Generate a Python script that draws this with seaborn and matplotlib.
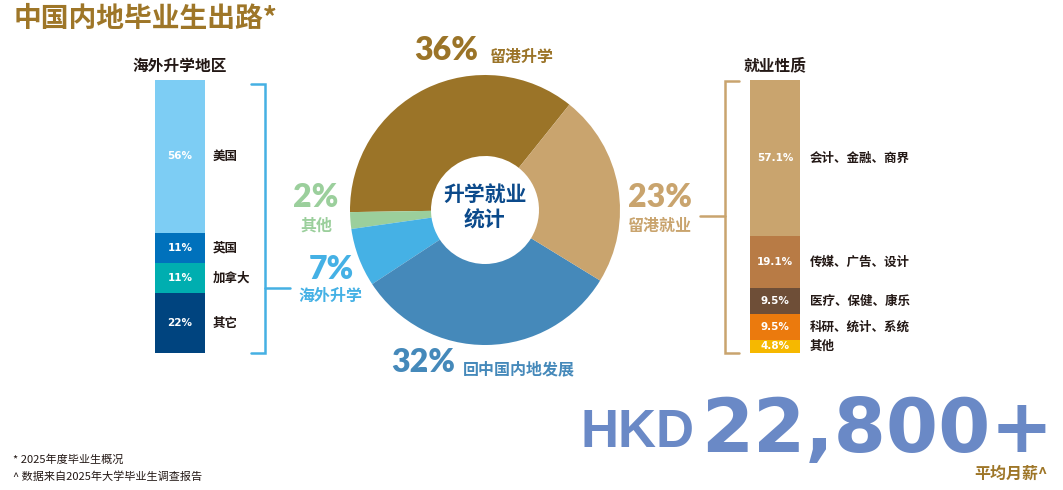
"""
Mainland graduates destinations chart: overseas study regions, pathway donut,
employment sectors and average monthly salary.
"""
import numpy as np
import matplotlib
matplotlib.use("Agg")
import matplotlib.pyplot as plt
import seaborn as sns

# ====================== DATA ======================
overseas_regions = ["美国", "英国", "加拿大", "其它"]
overseas_share = [56, 11, 11, 22]
overseas_colors = ["#7DCDF4", "#0071BC", "#00AEB0", "#00447F"]

job_types = ["会计、金融、商界", "传媒、广告、设计", "医疗、保健、康乐", "科研、统计、系统", "其他"]
job_share = [57.1, 19.1, 9.5, 9.5, 4.8]
job_colors = ["#C9A46E", "#B87B45", "#6E4E37", "#EB7A0D", "#F6B800"]

pathways = ["留港升学", "其他", "海外升学", "回中国内地发展", "留港就业"]
pathway_share = [36, 2, 7, 32, 23]
pathway_colors = ["#9B7428", "#9BCF9C", "#45B1E5", "#4589BA", "#C9A46E"]

salary_text = "22,800+"

GOLD = "#9E7628"
INK = "#231815"
NAVY = "#0B4A8B"
HKD_BLUE = "#6A89C6"

sns.set_theme(style="white")
plt.rcParams["font.family"] = ["Noto Sans CJK SC", "DejaVu Sans"]
NUM_FONT = ["Lato", "Noto Sans CJK SC", "DejaVu Sans"]

W, H = 1063, 490
fig = plt.figure(figsize=(W / 100, H / 100), dpi=100)

# background axes in pixel coordinates for titles / annotations
bg = fig.add_axes([0, 0, 1, 1])
bg.set_xlim(0, W)
bg.set_ylim(H, 0)
bg.axis("off")


def px_axes(x0, y0, x1, y1):
    """Axes placed by pixel box (top-left origin)."""
    return fig.add_axes([x0 / W, (H - y1) / H, (x1 - x0) / W, (y1 - y0) / H])


def stacked_bar(ax, shares, colors, labels, fmt, label_x):
    """Vertical stacked bar, first item on top, drawn as layered seaborn bars."""
    cum = np.cumsum(shares)
    for top, col in sorted(zip(cum, colors), key=lambda t: -t[0]):
        sns.barplot(x=[0], y=[top], color=col, width=1, saturation=1,
                    errorbar=None, linewidth=0, ax=ax)
    ax.set_xlim(-0.5, 0.5)
    ax.set_ylim(cum[-1], 0)
    ax.axis("off")
    for v, c, name in zip(shares, cum, labels):
        mid = c - v / 2
        ax.text(0, mid, fmt.format(v), ha="center", va="center", color="white",
                fontsize=7.5, fontweight="bold", family=["DejaVu Sans"])
        ax.text(label_x, mid, name, ha="left", va="center", color=INK,
                fontsize=9, fontweight="bold", clip_on=False)


# ====================== LEFT BAR: overseas regions ======================
ax_left = px_axes(155, 80, 205, 353)
stacked_bar(ax_left, overseas_share, overseas_colors, overseas_regions, "{:d}%", 0.66)

# ====================== RIGHT BAR: employment sectors ======================
ax_right = px_axes(750, 80, 800, 353)
stacked_bar(ax_right, job_share, job_colors, job_types, "{:.1f}%", 0.70)

# ====================== DONUT ======================
ax_pie = px_axes(350, 75, 620, 345)
ax_pie.pie(pathway_share, colors=pathway_colors, startangle=51.3, counterclock=True,
           radius=1, wedgeprops=dict(width=0.6, linewidth=0))
ax_pie.set_xlim(-1, 1)
ax_pie.set_ylim(-1, 1)
ax_pie.text(0, 0.02, "升学就业\n统计", ha="center", va="center", color=NAVY,
            fontsize=15, fontweight="bold", linespacing=1.25)

# pathway labels
pct_kw = dict(fontsize=23, fontweight="heavy", family=NUM_FONT)
lab_kw = dict(fontsize=11.5, fontweight="bold")
bg.text(414, 51, f"{pathway_share[0]}%", ha="left", va="center", color=pathway_colors[0], **pct_kw)
bg.text(490, 57, pathways[0], ha="left", va="center", color=pathway_colors[0], **lab_kw)
bg.text(660, 197, f"{pathway_share[4]}%", ha="center", va="center", color=pathway_colors[4], **pct_kw)
bg.text(660, 226, pathways[4], ha="center", va="center", color=pathway_colors[4], **lab_kw)
bg.text(316, 197, f"{pathway_share[1]}%", ha="center", va="center", color=pathway_colors[1], **pct_kw)
bg.text(316, 226, pathways[1], ha="center", va="center", color=pathway_colors[1], **lab_kw)
bg.text(331, 269, f"{pathway_share[2]}%", ha="center", va="center", color=pathway_colors[2], **pct_kw)
bg.text(330, 296, pathways[2], ha="center", va="center", color=pathway_colors[2], **lab_kw)
bg.text(391, 362, f"{pathway_share[3]}%", ha="left", va="center", color=pathway_colors[3], **pct_kw)
bg.text(463, 369, pathways[3], ha="left", va="center", color=pathway_colors[3], **lab_kw)

# brackets linking bars to donut
blue_line = "#45B0E3"
bg.plot([251, 265, 265, 251], [84, 84, 353, 353], color=blue_line, lw=1.8, solid_joinstyle="miter")
bg.plot([265, 290], [288, 288], color=blue_line, lw=1.8)
tan_line = "#C9A46E"
bg.plot([739, 725, 725, 739], [81, 81, 353, 353], color=tan_line, lw=1.8, solid_joinstyle="miter")
bg.plot([700, 725], [216, 216], color=tan_line, lw=1.8)

# ====================== TITLES ======================
bg.text(14, 19, "中国内地毕业生出路*", ha="left", va="center", color=GOLD,
        fontsize=20, fontweight="heavy")
bg.text(180, 66, "海外升学地区", ha="center", va="center", color=INK, fontsize=11.3, fontweight="bold")
bg.text(775, 65, "就业性质", ha="center", va="center", color=INK, fontsize=11.3, fontweight="bold")

# ====================== SALARY ======================
bg.text(581, 447, "HKD", ha="left", va="baseline", color=HKD_BLUE,
        fontsize=38, fontweight="bold", family=["Liberation Sans", "DejaVu Sans"])
bg.text(701, 452, salary_text, ha="left", va="baseline", color=HKD_BLUE,
        fontsize=54, fontweight="bold", family=["DejaVu Sans"])
bg.text(1048, 474, "平均月薪^", ha="right", va="center", color=GOLD,
        fontsize=11.5, fontweight="bold")

# ====================== FOOTNOTES ======================
bg.text(13, 460, "* 2025年度毕业生概况", ha="left", va="center", color=INK, fontsize=8)
bg.text(13, 477, "^ 数据来自2025年大学毕业生调查报告", ha="left", va="center", color=INK, fontsize=8)

fig.savefig("out.png", dpi=100, facecolor="white")
